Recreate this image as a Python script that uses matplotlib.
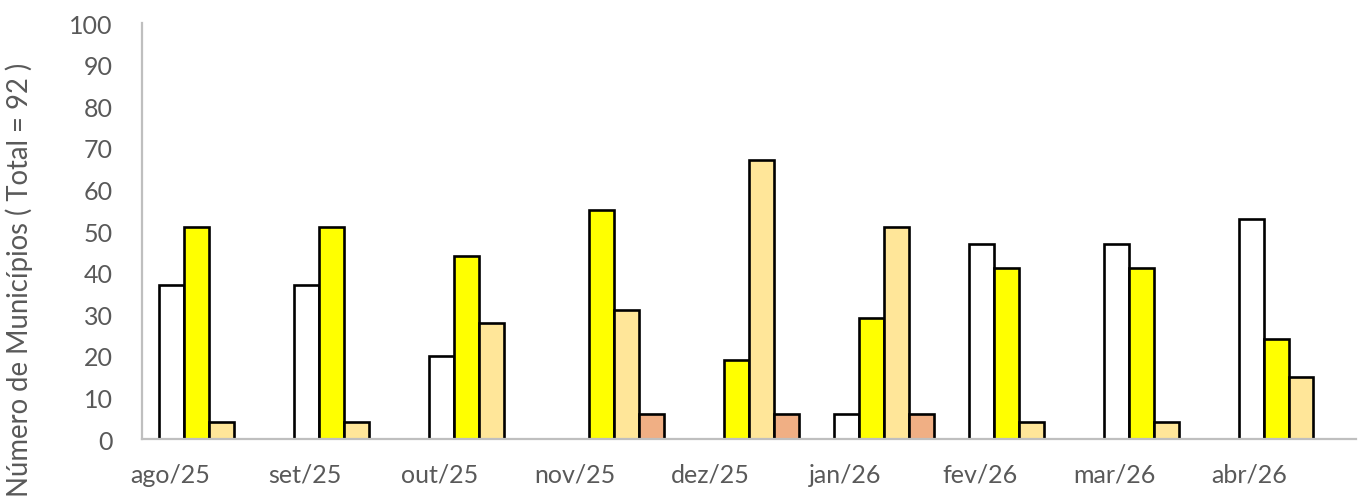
import numpy as np
import matplotlib
matplotlib.use("Agg")
import matplotlib.pyplot as plt

plt.rcParams['font.family'] = ['Lato', 'DejaVu Sans']

# Monthly counts of municipalities per class (total = 92)
months = ["ago/25", "set/25", "out/25", "nov/25", "dez/25",
          "jan/26", "fev/26", "mar/26", "abr/26"]
serie_branca = [37, 37, 20, 0, 0, 6, 47, 47, 53]
serie_amarela = [51, 51, 44, 55, 19, 29, 41, 41, 24]
serie_bege = [4, 4, 28, 31, 67, 51, 4, 4, 15]
serie_salmao = [0, 0, 0, 6, 6, 6, 0, 0, 0]

series = [serie_branca, serie_amarela, serie_bege, serie_salmao]
colors = ["#FFFFFF", "#FFFF00", "#FFE699", "#F0AF84"]

fig = plt.figure(figsize=(13.65, 5.02), dpi=100)
ax = fig.add_axes([0.104, 0.1235, 0.8894, 0.8285])

x = np.arange(len(months))
width = 0.185
n = len(series)
for i, (vals, col) in enumerate(zip(series, colors)):
    v = np.array(vals, dtype=float)
    v[v == 0] = np.nan  # empty classes are not drawn
    offset = (i - (n - 1) / 2) * width
    ax.bar(x + offset, v, width, color=col, edgecolor="black",
           linewidth=1.9, zorder=2)

ax.set_xlim(-0.5, len(months) - 0.5)
ax.set_ylim(0, 100)
ax.set_yticks(np.arange(0, 101, 10))
# category labels sit slightly left of each group
ax.set_xticks(x - 0.29)
ax.set_xticklabels(months)

ax.tick_params(axis="both", length=0, labelsize=18, colors="#595959")
ax.tick_params(axis="x", pad=17)
ax.tick_params(axis="y", pad=21)

for s in ["top", "right"]:
    ax.spines[s].set_visible(False)
for s in ["left", "bottom"]:
    ax.spines[s].set_color("#BFBFBF")
    ax.spines[s].set_linewidth(1.6)
    ax.spines[s].set_zorder(3)

ax.set_ylabel("Número de Municípios ( Total = 92 )", fontsize=19.8,
              color="#595959")
ax.yaxis.set_label_coords(-0.0895, 0.385)

fig.savefig("out.png", dpi=100)
